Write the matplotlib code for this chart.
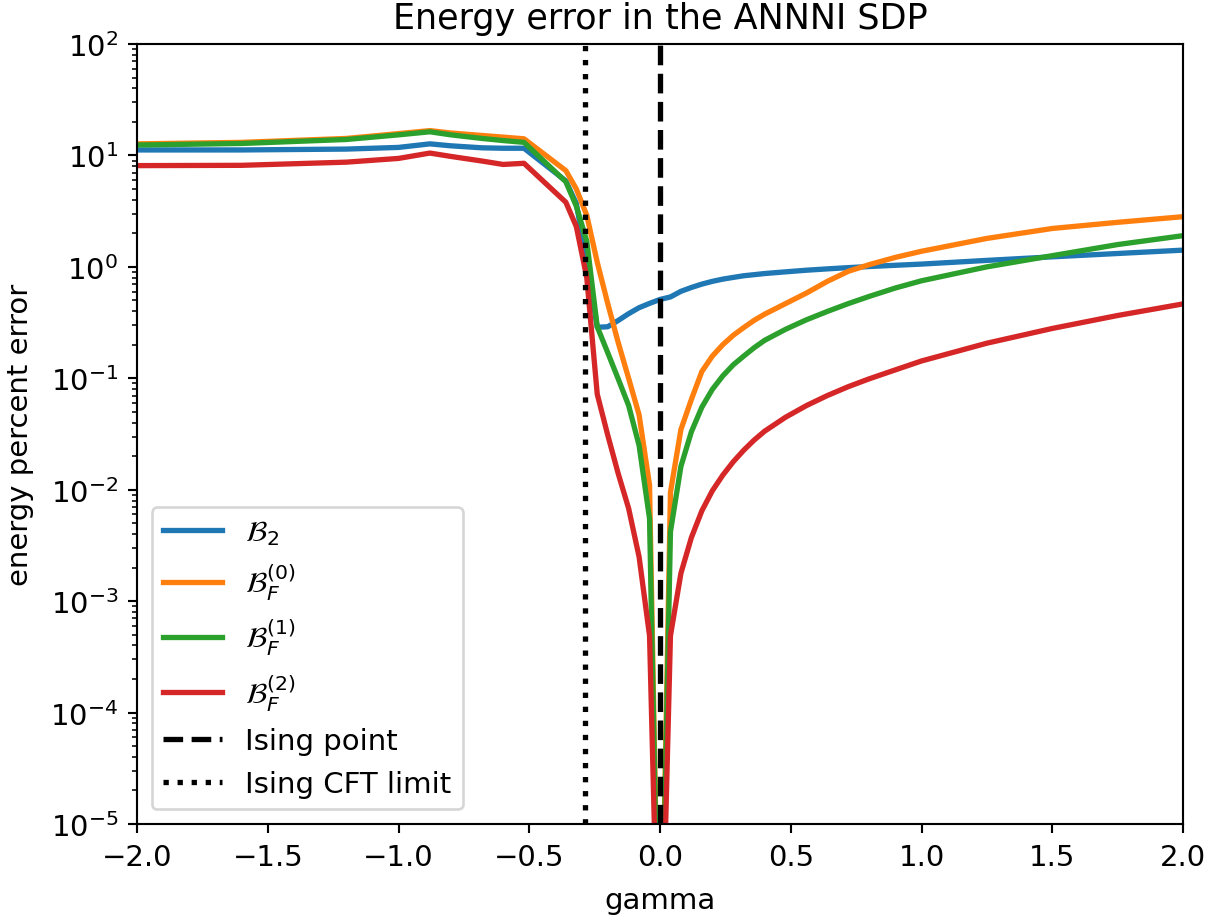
import matplotlib
matplotlib.use("Agg")
import matplotlib.pyplot as plt

plt.rcParams['font.size'] = 11

gamma = [-2.0, -1.6, -1.2, -1.0, -0.88, -0.8, -0.68, -0.6, -0.52, -0.36, -0.32,
         -0.28, -0.24, -0.2, -0.16, -0.12, -0.08, -0.04, 0.0,
         0.04, 0.08, 0.12, 0.16, 0.2, 0.24, 0.28, 0.32, 0.36, 0.4, 0.48, 0.56,
         0.64, 0.72, 0.8, 0.9, 1.0, 1.25, 1.5, 1.75, 2.0]

err_B2 = [11.2, 11.2, 11.4, 11.8, 12.7, 12.2, 11.7, 11.6, 11.6, 5.9, 3.7,
          1.1, 0.287, 0.29, 0.33, 0.38, 0.43, 0.47, 0.51,
          0.537, 0.603, 0.653, 0.700, 0.741, 0.776, 0.804, 0.832, 0.851, 0.871, 0.902, 0.933,
          0.959, 0.984, 1.007, 1.033, 1.059, 1.143, 1.230, 1.318, 1.413]

err_BF0 = [12.7, 13.1, 14.2, 15.7, 16.7, 15.9, 15.1, 14.6, 14.1, 7.3, 5.0,
           2.9, 1.1, 0.47, 0.21, 0.1, 0.047, 0.011, 1e-7,
           0.0095, 0.0347, 0.0646, 0.115, 0.158, 0.200, 0.243, 0.285, 0.331, 0.376, 0.468, 0.582,
           0.741, 0.912, 1.047, 1.216, 1.380, 1.80, 2.21, 2.51, 2.82]

err_BF1 = [12.4, 12.8, 13.9, 15.3, 16.3, 15.3, 14.2, 13.6, 13.1, 5.8, 3.5,
           1.7, 0.29, 0.17, 0.099, 0.057, 0.025, 0.0055, 1e-7,
           0.0042, 0.0162, 0.0331, 0.0550, 0.0794, 0.105, 0.132, 0.158, 0.188, 0.219, 0.275, 0.335,
           0.398, 0.468, 0.543, 0.646, 0.750, 1.0, 1.26, 1.585, 1.905]

err_BF2 = [8.1, 8.15, 8.7, 9.4, 10.5, 9.8, 8.9, 8.3, 8.5, 3.8, 2.3,
           0.8, 0.072, 0.031, 0.014, 0.0068, 0.0025, 0.00049, 1e-7,
           0.00049, 0.00178, 0.00372, 0.00646, 0.00977, 0.0135, 0.0178, 0.0226, 0.0279, 0.0335, 0.0447, 0.0569,
           0.070, 0.0841, 0.0989, 0.119, 0.143, 0.2065, 0.280, 0.366, 0.465]

ising_point = 0.0
ising_cft_limit = -0.287

labels = [r'$\mathcal{B}_2$', r'$\mathcal{B}_F^{(0)}$', r'$\mathcal{B}_F^{(1)}$', r'$\mathcal{B}_F^{(2)}$']
series = [err_B2, err_BF0, err_BF1, err_BF2]
colors = ['#1f77b4', '#ff7f0e', '#2ca02c', '#d62728']

dpi = 191
fig = plt.figure(figsize=(1222 / dpi, 917 / dpi), dpi=dpi)
ax = fig.add_axes([137 / 1222, 1 - 825 / 917, (1183 - 137) / 1222, (825 - 45) / 917])

for vals, lab, c in zip(series, labels, colors):
    ax.plot(gamma, vals, color=c, lw=2, label=lab)

ax.axvline(ising_point, color='black', ls='--', lw=2, label='Ising point')
ax.axvline(ising_cft_limit, color='black', ls=':', lw=2, label='Ising CFT limit')

ax.set_yscale('log')
ax.set_xlim(-2, 2)
ax.set_ylim(1e-5, 1e2)
ax.set_xlabel('gamma', labelpad=6)
ax.set_ylabel('energy percent error', labelpad=6)
ax.set_title('Energy error in the ANNNI SDP')
ax.legend(loc='lower left')

fig.savefig('out.png', dpi=dpi)
